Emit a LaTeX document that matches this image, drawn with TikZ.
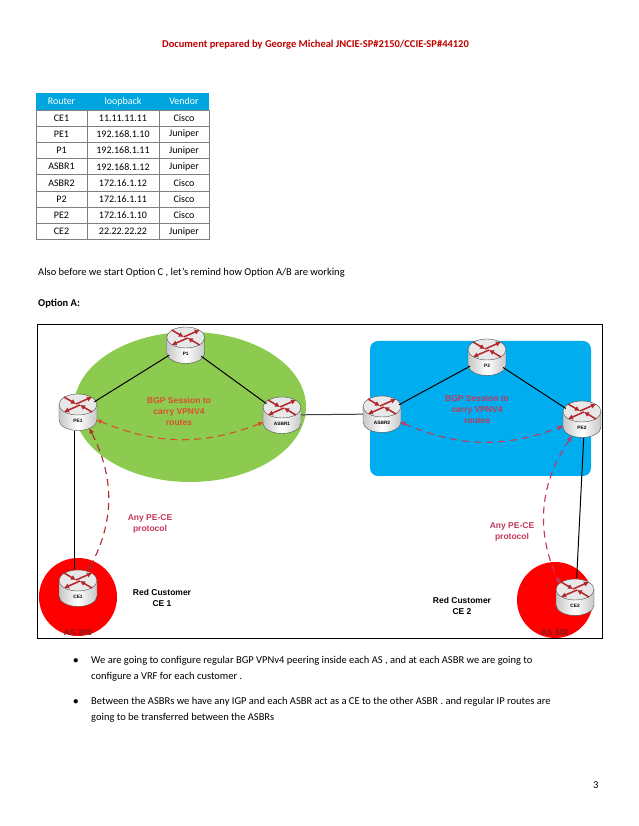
\documentclass[tikz,border=0pt]{standalone}
\usepackage{fontspec}
\setmainfont{Carlito}
\newfontfamily\labelfont{Liberation Sans}
\usetikzlibrary{arrows.meta}
\definecolor{headblue}{HTML}{00A6E0}
\definecolor{asgreen}{HTML}{8CCB50}
\definecolor{asblue}{HTML}{00AEEF}
\definecolor{headred}{HTML}{C00000}
\definecolor{arrowred}{HTML}{B3262B}
\definecolor{bgpleft}{HTML}{D9502B}
\definecolor{bgpright}{HTML}{C2385A}
\tikzset{
  routerbox/.style={circle,minimum size=38pt,inner sep=0pt},
  link/.style={black,line width=1pt},
  session/.style={dashed,dash pattern=on 7pt off 5pt,line width=1.1pt,{Latex[length=6pt,width=5pt]}-{Latex[length=6pt,width=5pt]}},
  bgptext/.style={font=\labelfont\bfseries\fontsize{8.5}{11}\selectfont,align=center},
  bodytext/.style={font=\fontsize{10.5}{12}\selectfont,anchor=west,inner sep=0pt},
  cell/.style={font=\fontsize{10}{12}\selectfont,inner sep=0pt}
}
\begin{document}
\begin{tikzpicture}[x=1pt,y=1pt]
\useasboundingbox (0,0) rectangle (638,826);
\fill[white] (0,0) rectangle (638,826);
% page text
\node[font=\bfseries\fontsize{10.5}{12}\selectfont,text=headred,inner sep=0pt] (title) at (315.5,781) {Document prepared by George Micheal JNCIE-SP\#2150/CCIE-SP\#44120};
% table
\fill[headblue] (36,733) rectangle (209,716);
\foreach \i/\r/\l/\v in {0/CE1/11.11.11.11/Cisco,1/PE1/192.168.1.10/Juniper,2/P1/192.168.1.11/Juniper,3/ASBR1/192.168.1.12/Juniper,4/ASBR2/172.16.1.12/Cisco,5/P2/172.16.1.11/Cisco,6/PE2/172.16.1.10/Cisco,7/CE2/22.22.22.22/Juniper}{
  \draw[gray,line width=0.6pt] (36,{716-16.2*\i}) rectangle (87,{716-16.2*(\i+1)});
  \draw[gray,line width=0.6pt] (87,{716-16.2*\i}) rectangle (159,{716-16.2*(\i+1)});
  \draw[gray,line width=0.6pt] (159,{716-16.2*\i}) rectangle (209,{716-16.2*(\i+1)});
  \node[cell] (router\i) at (61.5,{707.9-16.2*\i}) {\r};
  \node[cell] (loop\i) at (123,{707.9-16.2*\i}) {\l};
  \node[cell] (vendor\i) at (184,{707.9-16.2*\i}) {\v};
}
\node[cell,text=white] (headr) at (61.5,724.5) {Router};
\node[cell,text=white] (headl) at (123,724.5) {loopback};
\node[cell,text=white] (headv) at (184,724.5) {Vendor};
\node[bodytext] (also) at (38,553) {Also before we start Option C , let's remind how Option A/B are working};
\node[bodytext,font=\bfseries\fontsize{10.5}{12}\selectfont] (opta) at (38,522) {Option A:};
% diagram
\draw[black,line width=0.8pt] (37.5,188) rectangle (602.5,501.5);
\fill[asgreen] (190,419) ellipse (116 and 75);
\fill[asblue,rounded corners=8pt] (370,350) rectangle (591,485);
\fill[red] (78,229) circle (39);
\fill[red] (555,226) circle (38);
% routers
\foreach \name/\x/\y/\txt in {p1/185.7/481/P1,pe1/78/414/PE1,asbr1/282/411/ASBR1,ce1/78/238/CE1,p2/487/469/P2,asbr2/382/412/ASBR2,pe2/582/407/PE2,ce2/575/229/CE2}{
  \node[routerbox] (\name) at (\x,\y) {};
  \begin{scope}[shift={(\x,\y)}]
    \path[left color=gray!45,right color=gray!45,middle color=white,draw=gray!60!black,line width=0.4pt] (-19,7) -- (-19,-8) arc (180:360:19 and 10.5) -- (19,7) -- cycle;
    \filldraw[fill=gray!18,draw=gray!60!black,line width=0.4pt] (0,7.5) ellipse (19 and 10.5);
    \draw[arrowred,line width=1.5pt,-{Latex[length=5pt,width=5.5pt]}] (-2,8) -- (14,15);
    \draw[arrowred,line width=1.5pt,-{Latex[length=5pt,width=5.5pt]}] (2,7) -- (-14,0);
    \draw[arrowred,line width=1.5pt,-{Latex[length=5pt,width=5.5pt]}] (-14,15) -- (-2,8);
    \draw[arrowred,line width=1.5pt,-{Latex[length=5pt,width=5.5pt]}] (14,0) -- (2,7);
    \node[font=\labelfont\bfseries\fontsize{4.8}{5}\selectfont,inner sep=0pt] (\name text) at (0,-9) {\txt};
  \end{scope}
}
% links
\draw[link] (p1) -- (pe1);
\draw[link] (p1) -- (asbr1);
\draw[link,draw=black!75] (asbr1) -- (asbr2);
\draw[link] (p2) -- (asbr2);
\draw[link] (p2) -- (pe2);
\draw[link] (pe1.-100) -- (ce1.100);
\draw[link] (pe2.-85) -- (ce2.85);
% sessions
\draw[session,bgpleft] (pe1) to[bend right=22] (asbr1);
\draw[session,bgpright] (asbr2) to[bend right=22] (pe2);
\draw[session,arrowred] (ce1.60) to[bend right=28] (pe1.-55);
\draw[session,bgpright] (pe2.-120) to[bend right=30] (ce2.140);
% labels
\node[bgptext,text=bgpleft] (bgpa) at (179,415) {BGP Session to\\carry VPNV4\\routes};
\node[bgptext,text=bgpright] (bgpb) at (477,417) {BGP Session to\\carry VPNV4\\routes};
\node[bgptext,text=bgpright] (pecea) at (150,302) {Any PE-CE\\protocol};
\node[bgptext,text=bgpright] (peceb) at (512,294) {Any PE-CE\\protocol};
\node[bgptext,text=black] (custa) at (162,228) {Red Customer\\CE 1};
\node[bgptext,text=black] (custb) at (462,220) {Red Customer\\CE 2};
\node[bgptext,text=arrowred!70!black] (asa) at (78,193.5) {AS 300};
\node[bgptext,text=arrowred!70!black] (asb) at (555,193.5) {AS 300};
% bullets
\node[bodytext] (dota) at (73,165) {$\bullet$};
\node[bodytext] (dotb) at (73,124) {$\bullet$};
\node[bodytext] (bula) at (91,165) {We are going to configure regular BGP VPNv4 peering inside each AS , and at each ASBR we are going to};
\node[bodytext] (bulb) at (91,149) {configure a VRF for each customer .};
\node[bodytext] (bulc) at (91,124) {Between the ASBRs we have any IGP and each ASBR act as a CE to the other ASBR . and regular IP routes are};
\node[bodytext] (buld) at (91,108) {going to be transferred between the ASBRs};
\node[bodytext] (pagenum) at (593,41) {3};
\end{tikzpicture}
\end{document}
